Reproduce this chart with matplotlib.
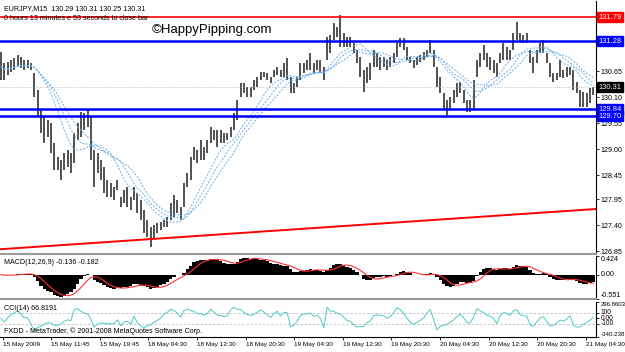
import matplotlib.pyplot as plt
import matplotlib.transforms as mtransforms
import numpy as np
import pandas as pd

# EURJPY M15 bars (one entry per ~30 min of chart)
highs = [131.05, 130.82, 130.84, 130.88, 130.93, 130.99, 130.95, 130.88, 130.88, 130.82,
         130.61, 130.25, 129.83, 129.68, 129.62, 129.55, 129.13, 128.84, 128.77, 128.92,
         128.98, 128.92, 129.34, 129.55, 129.79, 129.77, 129.83, 129.68, 128.98, 128.92,
         128.77, 128.63, 128.35, 128.29, 128.21, 128.35, 128.00, 128.14, 128.21, 128.00,
         128.21, 128.08, 127.93, 127.72, 127.51, 127.36, 127.40, 127.44, 127.46, 127.51,
         127.57, 127.87, 128.04, 127.93, 127.78, 128.29, 128.50, 128.84, 129.05, 128.98,
         129.20, 129.05, 129.20, 129.47, 129.40, 129.40, 129.40, 129.34, 129.34, 129.47,
         129.77, 130.04, 130.40, 130.40, 130.31, 130.31, 130.46, 130.52, 130.63, 130.63,
         130.61, 130.52, 130.67, 130.74, 130.67, 130.82, 130.93, 130.52, 130.40, 130.52,
         130.82, 130.82, 130.88, 131.03, 130.82, 130.88, 130.88, 130.74, 131.37, 131.41,
         131.66, 131.58, 131.83, 131.45, 131.37, 131.37, 131.24, 131.09, 130.95, 130.67,
         130.74, 130.82, 131.09, 131.03, 130.95, 130.95, 130.88, 130.95, 131.03, 131.24,
         131.35, 131.35, 131.16, 130.95, 130.88, 130.95, 130.99, 131.05, 131.09, 131.30,
         131.09, 130.74, 130.52, 130.19, 130.04, 130.10, 130.25, 130.40, 130.42, 130.25,
         130.04, 130.04, 130.46, 130.88, 131.03, 131.20, 131.03, 130.95, 130.88, 130.82,
         131.03, 131.24, 131.16, 131.09, 131.45, 131.68, 131.45, 131.41, 131.45, 131.09,
         130.95, 131.09, 131.24, 131.30, 131.03, 130.82, 130.61, 130.61, 130.88, 130.67,
         130.74, 130.74, 130.67, 130.42, 130.25, 130.21, 130.19, 130.29, 130.31]
lows = [130.46, 130.46, 130.57, 130.63, 130.67, 130.74, 130.71, 130.67, 130.71, 130.67,
        130.10, 129.68, 129.34, 129.13, 129.26, 128.92, 128.56, 128.56, 128.35, 128.56,
        128.63, 128.50, 128.71, 129.20, 129.26, 129.40, 129.47, 128.77, 128.21, 128.50,
        128.35, 128.08, 128.00, 128.00, 127.93, 128.14, 127.78, 127.87, 127.78, 127.72,
        127.93, 127.66, 127.51, 127.23, 127.15, 126.94, 127.10, 127.23, 127.30, 127.36,
        127.36, 127.51, 127.57, 127.66, 127.51, 127.78, 128.21, 128.35, 128.77, 128.71,
        128.77, 128.77, 128.92, 129.13, 129.20, 129.05, 129.13, 129.13, 129.20, 129.26,
        129.40, 129.62, 130.10, 130.19, 130.10, 130.10, 130.25, 130.31, 130.46, 130.52,
        130.46, 130.40, 130.52, 130.57, 130.52, 130.52, 130.46, 130.19, 130.19, 130.31,
        130.46, 130.61, 130.67, 130.67, 130.61, 130.67, 130.61, 130.46, 130.88, 131.03,
        131.30, 131.37, 131.16, 131.16, 131.16, 131.16, 131.03, 130.82, 130.52, 130.21,
        130.40, 130.46, 130.74, 130.74, 130.67, 130.74, 130.67, 130.74, 130.82, 130.95,
        131.16, 131.09, 130.88, 130.82, 130.71, 130.78, 130.84, 130.88, 130.95, 131.03,
        130.74, 130.31, 130.19, 129.83, 129.72, 129.83, 129.98, 130.10, 130.19, 129.98,
        129.79, 129.79, 129.83, 130.52, 130.74, 130.88, 130.74, 130.67, 130.61, 130.52,
        130.82, 130.88, 130.88, 130.88, 131.09, 131.30, 131.24, 131.24, 131.24, 130.82,
        130.61, 130.82, 131.03, 131.03, 130.82, 130.52, 130.42, 130.46, 130.52, 130.50,
        130.52, 130.57, 130.25, 130.19, 129.89, 129.89, 129.89, 129.98, 130.14]

red_levels = [131.79]
blue_levels = [131.28, 129.84, 129.70]
trend_start, trend_end = 126.89, 127.74
bid = 130.31

price_ticks = [126.85, 127.40, 127.95, 128.45, 129.00, 129.55, 130.10, 130.65]
time_labels = ['15 May 2009', '15 May 11:45', '15 May 19:45', '18 May 04:30', '18 May 12:30',
               '18 May 20:30', '19 May 04:30', '19 May 12:30', '19 May 20:30', '20 May 04:30',
               '20 May 12:30', '20 May 20:30', '21 May 04:30']

plt.rcParams['font.family'] = ['Liberation Sans', 'DejaVu Sans']
fs = 5.1

hi = pd.Series(highs)
lo = pd.Series(lows)
mid = (hi + lo) / 2
x = np.arange(len(highs))
n = len(highs)

# three moving averages of the median price
mas = [mid.rolling(w, min_periods=1).mean() for w in (11, 14, 17)]

# MACD (bars are ~2 M15 candles each, so periods are halved)
macd = mid.ewm(span=6, adjust=False).mean() - mid.ewm(span=13, adjust=False).mean()
signal = macd.rolling(5, min_periods=1).mean()

# CCI
tp = mid
sma = tp.rolling(7, min_periods=1).mean()
mad = tp.rolling(7, min_periods=1).apply(lambda v: np.mean(np.abs(v - v.mean())), raw=True)
cci = ((tp - sma) / (0.015 * mad.replace(0, np.nan))).fillna(0)

fig = plt.figure(figsize=(6.25, 3.52), dpi=100)
W, H = 625, 352
def box(l, t, r, b):
    return [l / W, 1 - b / H, (r - l) / W, (b - t) / H]

ax = fig.add_axes(box(0, 1, 596, 254))
ax2 = fig.add_axes(box(0, 256, 596, 299), sharex=ax)
ax3 = fig.add_axes(box(0, 302, 596, 337), sharex=ax)

for a in (ax, ax2, ax3):
    a.set_facecolor('white')
    for s in ('top', 'left'):
        a.spines[s].set_visible(False)
    a.spines['right'].set_color('black')
    a.spines['right'].set_linewidth(0.8)
    a.spines['bottom'].set_color('#9a9a9a')
    a.spines['bottom'].set_linewidth(1.5)
    a.yaxis.tick_right()
    a.tick_params(axis='y', direction='out', length=2, width=0.6, labelsize=fs, pad=1.5)
    a.tick_params(axis='x', bottom=False, labelbottom=False)

# main price chart
ax.vlines(x, lows, highs, color='#333333', lw=1.2)
for m in mas:
    ax.plot(x, m, color='#6aaef0', lw=0.7, ls=(0, (2, 1.5)))
for lv in red_levels:
    ax.axhline(lv, color='#ff0000', lw=1.2)
for lv in blue_levels:
    ax.axhline(lv, color='#0000ff', lw=1.8)
ax.plot([-0.3, n - 0.2], [trend_start, trend_end], color='#ff0000', lw=1.4)
ax.axhline(bid, color='#b0b0b0', lw=0.6, ls=':')
ax.set_xlim(-0.3, 178.8)
ax.set_ylim(126.79, 132.13)
ax.set_yticks(price_ticks)
ax.set_yticklabels(['%.2f' % p for p in price_ticks])

tr = mtransforms.blended_transform_factory(ax.transAxes, ax.transData)
tags = [(131.79, '#ff0000'), (131.28, '#0000ff'), (130.31, '#000000'),
        (129.84, '#0000ff'), (129.70, '#0000ff')]
for p, c in tags:
    ax.text(1.004, p, '%.2f' % p, transform=tr, fontsize=5.4, color='white', va='center',
            ha='left', bbox=dict(boxstyle='square,pad=0.22', fc=c, ec=c), clip_on=False)

ax.text(0.006, 0.985, 'EURJPY,M15  130.29 130.31 130.25 130.31', transform=ax.transAxes,
        fontsize=fs, va='top')
ax.text(0.006, 0.945, '0 hours 13 minutes e 53 seconds to close bar', transform=ax.transAxes,
        fontsize=fs, va='top')
ax.text(0.355, 0.885, '\u00a9HappyPipping.com', transform=ax.transAxes, fontsize=9.5,
        ha='center', va='center')

# MACD
ax2.bar(x, macd, width=1.0, color='black')
ax2.plot(x, signal, color='#ff3030', lw=0.8)
ax2.set_ylim(-0.551, 0.424)
ax2.set_yticks([0.424, 0.0, -0.551])
ax2.set_yticklabels(['0.424', '0.00', '-0.551'])
for lbl, va in zip(ax2.get_yticklabels(), ['top', 'center', 'bottom']):
    lbl.set_va(va)
ax2.text(0.006, 0.93, 'MACD(12,26,9) -0.136 -0.182', transform=ax2.transAxes,
         fontsize=fs, va='top')

# CCI
ax3.axhline(100, color='#c0c0c0', lw=0.6, ls=(0, (3, 2)))
ax3.axhline(-100, color='#c0c0c0', lw=0.6, ls=(0, (3, 2)))
ax3.plot(x, cci.clip(-340, 296), color='#4cc8c8', lw=0.7)
ax3.set_ylim(-340.238, 296.8603)
ax3.set_yticks([296.8603, 100, 0, -100, -340.238])
ax3.set_yticklabels(['296.8603', '100', '0.00', '-100', '-340.238'])
for lbl, va, sz in zip(ax3.get_yticklabels(), ['top', 'center', 'center', 'center', 'bottom'],
                       [4.3, 4.8, 4.8, 4.8, 4.4]):
    lbl.set_va(va)
    lbl.set_fontsize(sz)
ax3.text(0.006, 0.9, 'CCI(14) 66.8191', transform=ax3.transAxes, fontsize=fs, va='top')
ax3.text(0.006, 0.05, 'FXDD - MetaTrader, \u00a9 2001-2008 MetaQuotes Software Corp.',
         transform=ax3.transAxes, fontsize=fs, va='bottom')
ax3.spines['bottom'].set_color('black')
ax3.spines['bottom'].set_linewidth(0.8)

tick_pos = [0.5 + k * 14.6 for k in range(len(time_labels))]
ax3.set_xticks(tick_pos)
ax3.set_xticklabels(time_labels)
ax3.tick_params(axis='x', bottom=True, labelbottom=True, length=2, width=0.6,
                labelsize=4.6, pad=1.8)
for lbl in ax3.get_xticklabels():
    lbl.set_ha('left')

fig.savefig('out.png', dpi=100, facecolor='white')
